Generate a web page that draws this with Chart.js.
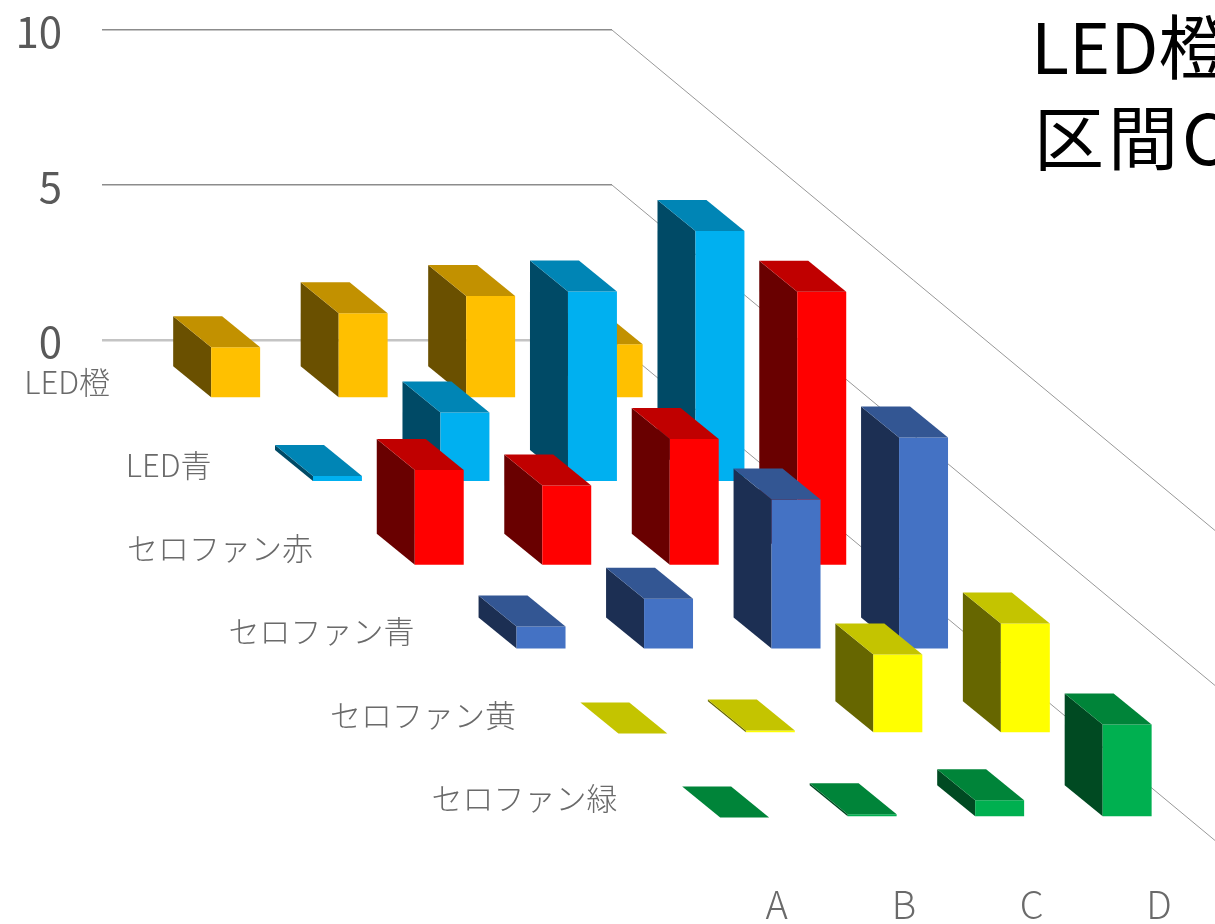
<!DOCTYPE html>
<html lang="ja">
<head>
<meta charset="utf-8">
<title>LED橙 区間C</title>
<script src="https://cdn.jsdelivr.net/npm/chart.js@4"></script>
<style>
  html, body { margin: 0; background: #fff; overflow: hidden; }
  #wrap { width: 1215px; height: 924px; }
</style>
</head>
<body>
<div id="wrap"><canvas id="barChart"></canvas></div>
<script>
const FONT = '"Noto Sans CJK JP", "Noto Sans", sans-serif';

const categories = ['A', 'B', 'C', 'D'];
const seriesNames = ['LED橙', 'LED青', 'セロファン赤', 'セロファン青', 'セロファン黄', 'セロファン緑'];
const ledOrange = [1.65, 2.75, 3.3, 1.75];
const ledBlue = [0.2, 2.25, 6.15, 8.1];
const filmRed = [3.1, 2.6, 4.1, 8.85];
const filmBlue = [0.75, 1.65, 4.85, 6.85];
const filmYellow = [0, 0.1, 2.55, 3.55];
const filmGreen = [0, 0.1, 0.55, 3.0];
const seriesValues = [ledOrange, ledBlue, filmRed, filmBlue, filmYellow, filmGreen];
const titleLines = ['LED橙', '区間C'];

// front, side, top
const faceColors = [
  ['#ffc000', '#6a5000', '#c29100'],
  ['#00b0f0', '#004a66', '#0085b5'],
  ['#ff0000', '#690000', '#c00000'],
  ['#4472c4', '#1c2f53', '#335693'],
  ['#ffff00', '#666600', '#c4c400'],
  ['#00b050', '#004a22', '#008439']
];

// oblique projection: one series row moves this far, a bar footprint is this deep
const ROW_STEP = { x: 101.8, y: 83.8 };
const BAR_DEPTH = { x: 38, y: 31 };
const BAR_FRONT_GAP = 16.5;
const WALL_SLOPE = 0.83;

function rowOffset(row) {
  return { x: ROW_STEP.x * (row + 0.5), y: ROW_STEP.y * (row + 0.5) };
}

function fillPoly(ctx, color, pts) {
  ctx.fillStyle = color;
  ctx.beginPath();
  pts.forEach((p, i) => (i ? ctx.lineTo(p[0], p[1]) : ctx.moveTo(p[0], p[1])));
  ctx.closePath();
  ctx.fill();
}

// bar controller that shifts each dataset back along the depth axis and adds side and top faces
class Bar3DController extends Chart.BarController {
  draw() {
    const ctx = this.chart.ctx;
    const off = rowOffset(this.index);
    const [front, side, top] = faceColors[this.index];
    ctx.save();
    this.getMeta().data.forEach(bar => {
      const left = bar.x - bar.width / 2 + off.x + BAR_DEPTH.x / 2;
      const right = left + bar.width;
      const yTop = bar.y + off.y + BAR_FRONT_GAP;
      const yBase = bar.base + off.y + BAR_FRONT_GAP;
      const dx = BAR_DEPTH.x, dy = BAR_DEPTH.y;
      if (yBase - yTop > 0.1) {
        fillPoly(ctx, side, [[left, yTop], [left - dx, yTop - dy], [left - dx, yBase - dy], [left, yBase]]);
        fillPoly(ctx, front, [[left, yTop], [right, yTop], [right, yBase], [left, yBase]]);
      }
      fillPoly(ctx, top, [[left, yTop], [right, yTop], [right - dx, yTop - dy], [left - dx, yTop - dy]]);
    });
    ctx.restore();
  }
}
Bar3DController.id = 'bar3d';
Bar3DController.defaults = Chart.BarController.defaults;
Bar3DController.overrides = Chart.BarController.overrides;
Chart.register(Bar3DController);

// gridlines running down the depth wall, from the right end of each value line
const depthGrid = {
  id: 'depthGrid',
  beforeDatasetsDraw(chart) {
    const { ctx, scales: { y }, chartArea, width } = chart;
    const run = width - chartArea.right;
    ctx.save();
    ctx.strokeStyle = '#989898';
    ctx.lineWidth = 1;
    y.ticks.forEach(t => {
      const py = y.getPixelForValue(t.value);
      ctx.beginPath();
      ctx.moveTo(chartArea.right, py);
      ctx.lineTo(width, py + run * WALL_SLOPE);
      ctx.stroke();
    });
    ctx.restore();
  }
};

// series names along the depth axis, category names under the front row, and the heading
const chartText = {
  id: 'chartText',
  afterDraw(chart) {
    const { ctx, scales: { x, y }, chartArea } = chart;
    const zero = y.getPixelForValue(0);
    ctx.save();
    ctx.fillStyle = '#6a6a6a';
    ctx.textBaseline = 'middle';
    ctx.textAlign = 'right';
    ctx.font = '300 31px ' + FONT;
    seriesNames.forEach((name, i) => {
      ctx.fillText(name, chartArea.left + 8 + i * 101.5, zero + 42 + i * 83.2);
    });
    ctx.textAlign = 'center';
    ctx.font = '300 38px ' + FONT;
    const front = rowOffset(5.5);
    categories.forEach((c, i) => {
      ctx.fillText(c, x.getPixelForValue(i) + front.x, zero + front.y + 62);
    });
    ctx.fillStyle = '#000';
    ctx.textAlign = 'left';
    ctx.textBaseline = 'alphabetic';
    ctx.font = '70px ' + FONT;
    ctx.fillText(titleLines[0], 1031, 74);
    ctx.letterSpacing = '4px';
    ctx.fillText(titleLines[1], 1034, 165);
    ctx.restore();
  }
};

new Chart(document.getElementById('barChart'), {
  type: 'bar3d',
  data: {
    labels: categories,
    datasets: seriesNames.map((name, i) => ({
      label: name,
      data: seriesValues[i],
      backgroundColor: faceColors[i][0],
      order: seriesNames.length - i,
      clip: false,
      grouped: false,
      categoryPercentage: 1,
      barPercentage: 0.384
    }))
  },
  plugins: [depthGrid, chartText],
  options: {
    responsive: true,
    maintainAspectRatio: false,
    animation: false,
    layout: { autoPadding: false, padding: { top: 30, right: 603, bottom: 584, left: 0 } },
    plugins: { legend: { display: false }, title: { display: false }, tooltip: { enabled: false } },
    scales: {
      x: { display: false, offset: true },
      y: {
        min: 0,
        max: 10,
        afterFit: s => { s.width = 102; s.paddingTop = 0; s.paddingBottom = 0; },
        afterBuildTicks: s => { s.ticks = [{ value: 0 }, { value: 5 }, { value: 10 }]; },
        border: { display: false },
        grid: {
          drawTicks: false,
          color: c => (c.tick.value === 0 ? '#c4c4c4' : '#8c8c8c'),
          lineWidth: c => (c.tick.value === 0 ? 2.5 : 1.5)
        },
        ticks: {
          padding: 40,
          labelOffset: 2,
          color: '#595959',
          font: { family: FONT, size: 42 }
        }
      }
    }
  }
});
</script>
</body>
</html>
